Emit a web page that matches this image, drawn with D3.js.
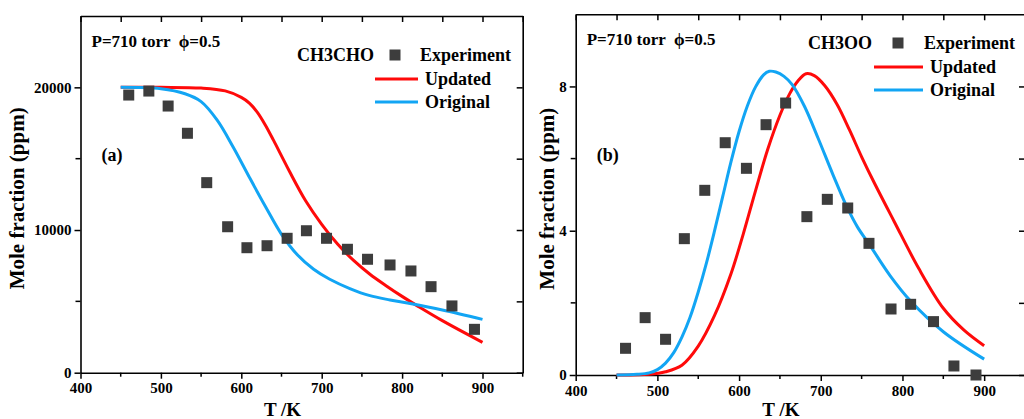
<!doctype html>
<html>
<head>
<meta charset="utf-8">
<style>
  body { margin: 0; background: #fff; }
  svg text { font-family: "Liberation Serif", "Times New Roman", serif; font-weight: bold; fill: #000; white-space: pre; }
</style>
<script src="https://d3js.org/d3.v7.min.js"></script>
</head>
<body>
<svg id="chart" width="1024" height="419"></svg>
<script>
// ---- panel (a): CH3CHO ----
var tExpA = [460, 485, 509, 533, 557, 583, 607, 632, 657, 681, 706, 732, 757, 785, 811, 836, 862, 890];
var expA  = [19460, 19740, 18690, 16780, 13320, 10230, 8760, 8900, 9420, 9950, 9420, 8650, 7950, 7550, 7130, 6030, 4680, 3040];

var tUpdA = [450, 500, 550, 580, 600, 610, 620, 630, 640, 650, 660, 680, 700, 720, 740, 760, 780, 800, 820, 850, 900];
var updA  = [20000, 20000, 19950, 19750, 19300, 18900, 18250, 17350, 16300, 15200, 14100, 12050, 10400, 9000, 7850, 6900, 6100, 5350, 4650, 3650, 2130];

var tOrgA = [450, 500, 530, 550, 570, 590, 610, 630, 650, 670, 690, 710, 735, 760, 785, 810, 850, 900];
var orgA  = [20000, 19900, 19550, 19000, 17700, 15800, 13700, 11650, 9700, 8250, 7250, 6550, 5900, 5400, 5100, 4850, 4400, 3740];

// ---- panel (b): CH3OO ----
var tExpB = [461, 485, 510, 533, 558, 583, 609, 633, 657, 683, 708, 733, 759, 786, 810, 838, 863, 890];
var expB  = [0.74, 1.59, 0.99, 3.78, 5.12, 6.44, 5.73, 6.94, 7.54, 4.39, 4.87, 4.63, 3.65, 1.83, 1.96, 1.48, 0.25, 0.0];

var tUpdB = [450, 490, 510, 530, 550, 570, 590, 605, 620, 635, 650, 662, 672, 682, 692, 705, 720, 735, 750, 765, 790, 820, 850, 875, 900];
var updB  = [0, 0.02, 0.09, 0.27, 0.8, 1.65, 2.8, 3.9, 5.1, 6.25, 7.2, 7.8, 8.15, 8.35, 8.3, 8.02, 7.5, 6.8, 6.05, 5.35, 4.25, 2.95, 1.85, 1.25, 0.81];

var tOrgB = [450, 475, 490, 500, 510, 520, 530, 540, 550, 560, 570, 580, 590, 600, 610, 620, 630, 637, 645, 655, 665, 680, 697, 715, 732, 745, 760, 785, 810, 850, 900];
var orgB  = [0, 0.02, 0.06, 0.15, 0.33, 0.62, 1.05, 1.6, 2.3, 3.1, 4.0, 4.95, 5.9, 6.75, 7.45, 7.98, 8.32, 8.42, 8.4, 8.28, 8.05, 7.45, 6.55, 5.55, 4.66, 4.1, 3.6, 2.75, 2.05, 1.2, 0.44];

var xTicks = [400, 500, 600, 700, 800, 900];
var yTicksA = [0, 10000, 20000];
var yTicksB = [0, 4, 8];

var RED = "#ff0a0a", BLUE = "#12a5f4", SQ = "#3d3d3d";

var svg = d3.select("#chart");

function drawPanel(p) {
    var x = d3.scaleLinear().domain([400, 950]).range([p.left, p.right]);
    var y = d3.scaleLinear().domain(p.yDomain).range([p.bottom, p.top]);
    var g = svg.append("g");
    var minorX = d3.range(400, 951, 50);

    // bottom axis
    var bx = g.append("g").attr("transform", "translate(0," + p.bottom + ")")
        .call(d3.axisBottom(x).tickValues(xTicks).tickFormat(d3.format("d"))
            .tickSize(6).tickSizeOuter(0).tickPadding(4));
    bx.append("g").selectAll("line").data(minorX.filter(function(d) { return d % 100; }))
        .enter().append("line")
        .attr("x1", function(d) { return x(d); }).attr("x2", function(d) { return x(d); })
        .attr("y1", 0).attr("y2", 4).attr("stroke", "#000").attr("stroke-width", 1.5);
    // top axis (inward ticks, no labels)
    g.append("g").attr("transform", "translate(0," + p.top + ")")
        .call(d3.axisBottom(x).tickValues(minorX).tickSize(6).tickSizeOuter(0).tickFormat(""));
    // left axis
    var ly = g.append("g").attr("transform", "translate(" + p.left + ",0)")
        .call(d3.axisLeft(y).tickValues(p.yTicks).tickFormat(d3.format("d"))
            .tickSize(6).tickSizeOuter(0).tickPadding(3));
    ly.append("g").selectAll("line").data(p.yMinor).enter().append("line")
        .attr("x1", -5).attr("x2", 0)
        .attr("y1", function(d) { return y(d); }).attr("y2", function(d) { return y(d); })
        .attr("stroke", "#000").attr("stroke-width", 1.5);
    // right axis (inward ticks)
    g.append("g").attr("transform", "translate(" + p.right + ",0)")
        .call(d3.axisLeft(y).tickValues(p.yTicks.concat(p.yMinor)).tickSize(6).tickSizeOuter(0).tickFormat(""));

    g.selectAll(".domain").attr("stroke", "#000").attr("stroke-width", 1.6);
    g.selectAll(".tick line").attr("stroke", "#000").attr("stroke-width", 1.5);
    g.selectAll(".tick text").attr("font-size", "15px")
        .attr("font-family", "Liberation Serif").attr("font-weight", "bold").attr("fill", "#000");

    // axis titles
    g.append("text").attr("x", (p.left + x(900)) / 2 + 1).attr("y", 416)
        .attr("text-anchor", "middle").attr("font-size", "19px").text("T /K");
    g.append("text")
        .attr("transform", "translate(" + p.yTitleX + "," + ((p.top + p.bottom) / 2 + 4) + ") rotate(-90)")
        .attr("text-anchor", "middle").attr("font-size", "21px").text("Mole fraction (ppm)");

    // curves
    var line = function(ts, vs) {
        return d3.line().curve(d3.curveCatmullRom.alpha(0.5))
            .x(function(d, i) { return x(ts[i]); })
            .y(function(d, i) { return y(vs[i]); })(vs);
    };
    g.append("path").attr("d", line(p.tUpd, p.upd)).attr("fill", "none")
        .attr("stroke", RED).attr("stroke-width", 3);
    g.append("path").attr("d", line(p.tOrg, p.org)).attr("fill", "none")
        .attr("stroke", BLUE).attr("stroke-width", 3);

    // experiment squares
    var s = 11;
    g.selectAll(".sq").data(p.exp).enter().append("rect")
        .attr("x", function(d, i) { return x(p.tExp[i]) - s / 2; })
        .attr("y", function(d) { return y(d) - s / 2; })
        .attr("width", s).attr("height", s).attr("fill", SQ);

    // annotations
    g.append("text").attr("x", p.left + 11).attr("y", p.top + 31)
        .attr("font-size", "17px").text("P=710 torr  \u03D5=0.5");
    g.append("text").attr("x", p.left + 21).attr("y", 161)
        .attr("font-size", "18px").text(p.tag);

    // legend
    var L = p.legend;
    g.append("text").attr("x", L.x).attr("y", L.y).attr("font-size", "18px").text(L.name);
    g.append("rect").attr("x", L.sqX - s / 2).attr("y", L.y - 6 - s / 2)
        .attr("width", s).attr("height", s).attr("fill", SQ);
    g.append("text").attr("x", L.textX).attr("y", L.y).attr("font-size", "18px").text("Experiment");
    [["Updated", RED], ["Original", BLUE]].forEach(function(e, i) {
        var yy = L.y + 18 + i * 23;
        g.append("line").attr("x1", L.lineX1).attr("x2", L.lineX2)
            .attr("y1", yy).attr("y2", yy).attr("stroke", e[1]).attr("stroke-width", 3);
        g.append("text").attr("x", L.lineX2 + 7).attr("y", yy + 6)
            .attr("font-size", "18px").text(e[0]);
    });
}

drawPanel({
    left: 80.5, right: 522.7, top: 16, bottom: 372.7,
    yDomain: [0, 25000], yTicks: yTicksA, yMinor: [5000, 15000],
    yTitleX: 24, tag: "(a)",
    tExp: tExpA, exp: expA, tUpd: tUpdA, upd: updA, tOrg: tOrgA, org: orgA,
    legend: { name: "CH3CHO", x: 297, y: 61, sqX: 395, textX: 420, lineX1: 375, lineX2: 418 }
});

drawPanel({
    left: 575.7, right: 1025, top: 14.3, bottom: 375,
    yDomain: [0, 10], yTicks: yTicksB, yMinor: [2, 6],
    yTitleX: 554, tag: "(b)",
    tExp: tExpB, exp: expB, tUpd: tUpdB, upd: updB, tOrg: tOrgB, org: orgB,
    legend: { name: "CH3OO", x: 808, y: 49, sqX: 898, textX: 924, lineX1: 874, lineX2: 923 }
});
</script>
</body>
</html>
